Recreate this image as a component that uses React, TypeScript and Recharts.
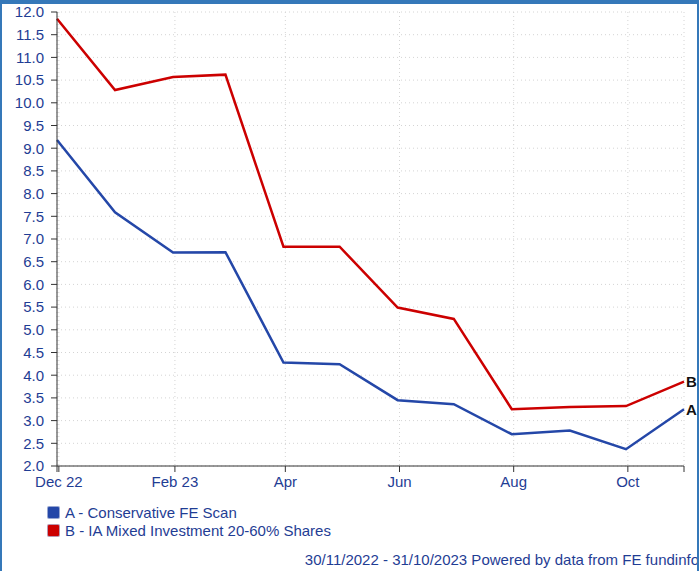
import React from 'react';
import { LineChart, Line, XAxis, YAxis, CartesianGrid } from 'recharts';

const dates = ['2022-11-30', '2022-12-31', '2023-01-31', '2023-02-28', '2023-03-31', '2023-04-30', '2023-05-31', '2023-06-30', '2023-07-31', '2023-08-31', '2023-09-30', '2023-10-31'];
const seriesA = [9.18, 7.59, 6.70, 6.71, 4.28, 4.24, 3.45, 3.36, 2.70, 2.78, 2.37, 3.25];
const seriesB = [11.85, 10.28, 10.57, 10.62, 6.83, 6.83, 5.49, 5.24, 3.25, 3.30, 3.32, 3.86];

const xTickDates = ['2022-12-01', '2023-02-01', '2023-04-01', '2023-06-01', '2023-08-01', '2023-10-01'];
const xTickLabels = ['Dec 22', 'Feb 23', 'Apr', 'Jun', 'Aug', 'Oct'];
const yTicks = [2, 2.5, 3, 3.5, 4, 4.5, 5, 5.5, 6, 6.5, 7, 7.5, 8, 8.5, 9, 9.5, 10, 10.5, 11, 11.5, 12];

const legendItems = [
    { key: 'A', name: 'A - Conservative FE Scan', color: '#2447a8' },
    { key: 'B', name: 'B - IA Mixed Investment 20-60% Shares', color: '#cc0000' },
];

const FONT = '"Liberation Sans", Arial, sans-serif';
const TEXT_BLUE = '#1f3d94';

const toTime = (d: string) => Date.parse(d + 'T00:00:00Z');

const data = dates.map((d, i) => ({ t: toTime(d), A: seriesA[i], B: seriesB[i] }));
const startT = data[0].t;
const endT = data[data.length - 1].t;
const xTicks = [startT, ...xTickDates.map(toTime), endT];
const tickLabelMap: Record<number, string> = {};
xTickDates.forEach((d, i) => { tickLabelMap[toTime(d)] = xTickLabels[i]; });

const endLabel = (letter: string) => (props: any) => {
    const { x, y, index } = props;
    if (index !== data.length - 1) return <g />;
    return (
        <text x={x + 2} y={y} dy="0.35em" fontFamily={FONT} fontSize={15} fontWeight="bold" fill="#111">
            {letter}
        </text>
    );
};

const App: React.FC = () => {
    return (
        <div style={{
            position: 'absolute', left: 0, top: 0, width: 699, height: 571, boxSizing: 'border-box',
            borderTop: '4px solid #3578b9', borderLeft: '2px solid #3578b9', borderRight: '2px solid #3578b9',
            background: '#fff', fontFamily: FONT, overflow: 'hidden',
        }}>
            <div style={{ position: 'absolute', left: -2, top: -4 }}>
                <LineChart width={699} height={496} data={data} margin={{ top: 12, right: 15, left: 0, bottom: 0 }}>
                    <CartesianGrid stroke="#d4d4d4" strokeDasharray="1 3" />
                    <XAxis
                        dataKey="t"
                        type="number"
                        domain={[startT, endT]}
                        ticks={xTicks}
                        interval={0}
                        tickFormatter={(v: number) => tickLabelMap[v] || ''}
                        height={30}
                        stroke="#333"
                        tickSize={6}
                        tickMargin={4}
                        tick={{ fill: TEXT_BLUE, fontSize: 15, fontFamily: FONT }}
                    />
                    <YAxis
                        domain={[2, 12]}
                        ticks={yTicks}
                        interval={0}
                        width={57}
                        tickFormatter={(v: number) => v.toFixed(1)}
                        stroke="#333"
                        tickSize={6}
                        tickMargin={7}
                        tick={{ fill: TEXT_BLUE, fontSize: 15, fontFamily: FONT }}
                    />
                    <Line type="linear" dataKey="B" stroke="#cc0000" strokeWidth={2.5} dot={false} activeDot={false} isAnimationActive={false} label={endLabel('B')} />
                    <Line type="linear" dataKey="A" stroke="#2447a8" strokeWidth={2.5} dot={false} activeDot={false} isAnimationActive={false} label={endLabel('A')} />
                </LineChart>
            </div>
            <div style={{ position: 'absolute', left: 45, top: 499 }}>
                {legendItems.map(item => (
                    <div key={item.key} style={{ display: 'flex', alignItems: 'center', height: 18, color: TEXT_BLUE, fontSize: 15 }}>
                        <span style={{ width: 13, height: 13, flexShrink: 0, background: item.color, borderRadius: 2, border: '1px solid rgba(180,190,220,0.8)', marginRight: 5, boxSizing: 'border-box' }} />
                        {item.name}
                    </div>
                ))}
            </div>
            <div style={{ position: 'absolute', right: -2, top: 547, color: TEXT_BLUE, fontSize: 15, whiteSpace: 'nowrap' }}>
                30/11/2022 - 31/10/2023 Powered by data from FE fundinfo
            </div>
        </div>
    );
};

export default App;
